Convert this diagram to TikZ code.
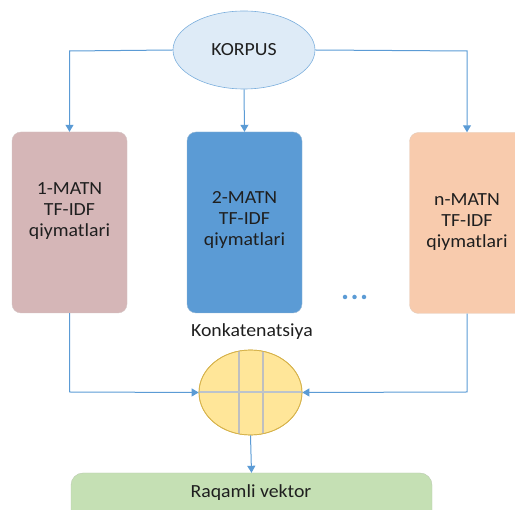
\documentclass[tikz,border=0pt]{standalone}
\usepackage{fontspec}
\setmainfont{Carlito}[FakeStretch=1.07]
\usetikzlibrary{arrows.meta,shapes.geometric}
\definecolor{lineblue}{HTML}{5B9BD5}
\definecolor{korpusfill}{HTML}{DEEBF7}
\definecolor{boxpink}{HTML}{D5B6B7}
\definecolor{boxblue}{HTML}{5B9BD5}
\definecolor{boxorange}{HTML}{F8CBAD}
\definecolor{boxgreen}{HTML}{C5E0B4}
\definecolor{catfill}{HTML}{FFE699}
\definecolor{catborder}{HTML}{D6B24A}
\definecolor{gridgray}{HTML}{BCC3CC}
\definecolor{textgray}{HTML}{1F1F1F}
\tikzset{
  conn/.style={draw=lineblue, line width=1pt, -{Triangle[length=7pt,width=8pt]}},
  matnbox/.style={rounded corners=9pt, minimum width=115pt, minimum height=181pt, inner sep=0pt, draw=#1!85!black!60, line width=0.4pt, fill=#1},
  lbl/.style={text=textgray, font=\fontsize{18.5}{21}\selectfont, align=center},
  dot/.style={circle, fill=lineblue, inner sep=0pt, minimum size=4.5pt},
}
\begin{document}
\begin{tikzpicture}[x=1pt,y=-1pt]
\useasboundingbox (0,0) rectangle (515,510);
\clip (0,0) rectangle (515,510);
% corpus
\node[ellipse, draw=lineblue!80, line width=0.6pt, fill=korpusfill, minimum width=142pt, minimum height=78pt, inner sep=0pt, lbl] (korpus) at (244,50) {KORPUS};
% boxes
\node[matnbox=boxpink] (b1) at (69.5,222.5) {};
\node[matnbox=boxblue] (b2) at (244.5,222.5) {};
\node[matnbox=boxorange] (bn) at (467,223) {};
\node[lbl] (t1) at (69.5,211) {1-MATN\\TF-IDF\\qiymatlari};
\node[lbl] (t2) at (244.5,220) {2-MATN\\TF-IDF\\qiymatlari};
\node[lbl] (tn) at (467,222) {n-MATN\\TF-IDF\\qiymatlari};
\node[dot] (d1) at (345,297) {};
\node[dot] (d2) at (354.5,297) {};
\node[dot] (d3) at (364,297) {};
% concatenation
\node[lbl] (klbl) at (252,332) {Konkatenatsiya};
\node[ellipse, draw=catborder, line width=0.7pt, fill=catfill, minimum width=103pt, minimum height=85pt, inner sep=0pt] (cat) at (250.5,392.5) {};
\begin{scope}
\clip (250.5,392.5) ellipse [x radius=51.5, y radius=42.5];
\draw[gray!50, line width=1.3pt] (239,340) -- (239,440);
\draw[gray!50, line width=1.3pt] (263,340) -- (263,440);
\draw[gridgray, line width=1.3pt] (190,392) -- (310,392);
\end{scope}
\draw[catborder, line width=0.7pt] (250.5,392.5) ellipse [x radius=51.5, y radius=42.5];
% result
\node[rounded corners=12pt, fill=boxgreen, draw=boxgreen!80!black!70, line width=0.4pt, minimum width=361pt, minimum height=60pt, inner sep=0pt] (res) at (251.5,503) {};
\node[lbl] (rlbl) at (251,493) {Raqamli vektor};
% connectors
\coordinate (kl) at (69.5,51);
\coordinate (kr) at (467,51);
\draw[conn] (korpus.west) -- (kl) -- (b1.north);
\draw[conn] (korpus.east) -- (kr) -- (bn.north);
\draw[conn] (korpus.south) -- (b2.north);
\coordinate (cl) at (69.5,392);
\coordinate (cr) at (467,392);
\draw[conn] (b1.south) -- (cl) -- (cat.west);
\draw[conn] (bn.south) -- (cr) -- (cat.east);
\draw[conn] (cat.south) -- (res.north);
\end{tikzpicture}
\end{document}
